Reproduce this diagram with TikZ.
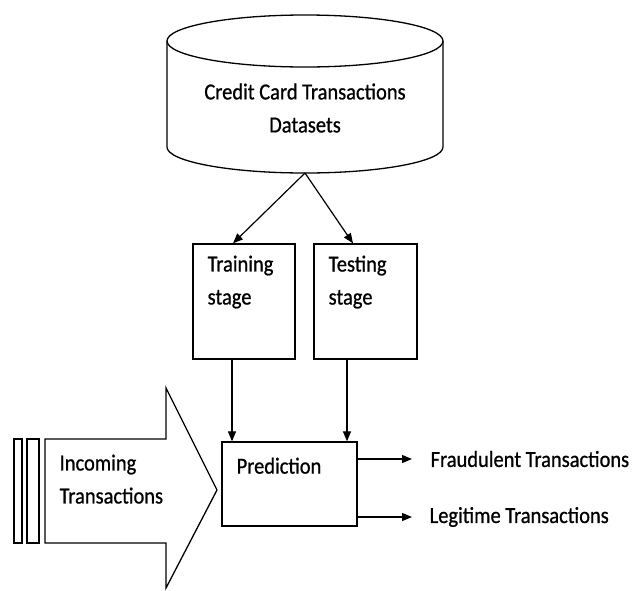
\documentclass[tikz,border=0pt]{standalone}
\usepackage{fontspec}
\setmainfont[FakeStretch=0.89,FakeBold=0.8]{Carlito}
\usetikzlibrary{arrows.meta}
\begin{document}
\begin{tikzpicture}[x=1pt,y=-1pt,
  line width=1.3pt,
  lbl/.style={font=\fontsize{23}{33}\selectfont, inner sep=0pt, align=left},
  boxnode/.style={draw, line width=1.3pt, inner sep=0pt},
  arr/.style={-{Triangle[length=10pt,width=8pt]}, line width=1.2pt}]
\useasboundingbox (0,0) rectangle (632,590);
% cylinder
\draw (305,41) ellipse [x radius=138, y radius=26];
\draw (167,41) -- (167,147) arc [start angle=180, end angle=0, x radius=138, y radius=26] -- (443,41);
\coordinate (cylb) at (305,173);
\node[lbl, align=center] (cyltext) at (305,108) {Credit Card Transactions\\Datasets};
% stage boxes
\node[boxnode, minimum width=102pt, minimum height=115pt] (train) at (244,301.5) {};
\node[boxnode, minimum width=103pt, minimum height=115pt] (test) at (365.5,301.5) {};
\node[lbl, anchor=north west] (traintext) at (207,255) {Training\\stage};
\node[lbl, anchor=north west] (testtext) at (328,255) {Testing\\stage};
% prediction
\node[boxnode, minimum width=135pt, minimum height=84pt] (pred) at (289.5,484) {};
\node[lbl, anchor=north west] (predtext) at (236,457) {Prediction};
% arrows from cylinder
\draw[arr] (cylb) -- ([xshift=-11pt]train.north);
\draw[arr] (cylb) -- ([xshift=-12.5pt]test.north);
% arrows to prediction
\draw[arr] ([xshift=-12pt]train.south) -- ([xshift=-12pt]train.south |- pred.north);
\draw[arr] ([xshift=-18.5pt]test.south) -- ([xshift=-18.5pt]test.south |- pred.north);
% outputs
\node[lbl, anchor=west] (fraud) at (430,459) {Fraudulent Transactions};
\node[lbl, anchor=west] (legit) at (429,517) {Legitime Transactions};
\draw[arr] (pred.east |- fraud.west) -- ([xshift=-18pt]fraud.west);
\draw[arr] (pred.east |- legit.west) -- ([xshift=-17pt]legit.west);
% incoming big arrow
\draw (14,439) rectangle (22,543);
\draw (27,439) rectangle (39,543);
\draw (45,439) -- (166,439) -- (166,388) -- (217,490) -- (166,588) -- (166,543) -- (45,543) -- cycle;
\node[lbl, anchor=north west] (intext) at (59,454) {Incoming\\Transactions};
\end{tikzpicture}
\end{document}
